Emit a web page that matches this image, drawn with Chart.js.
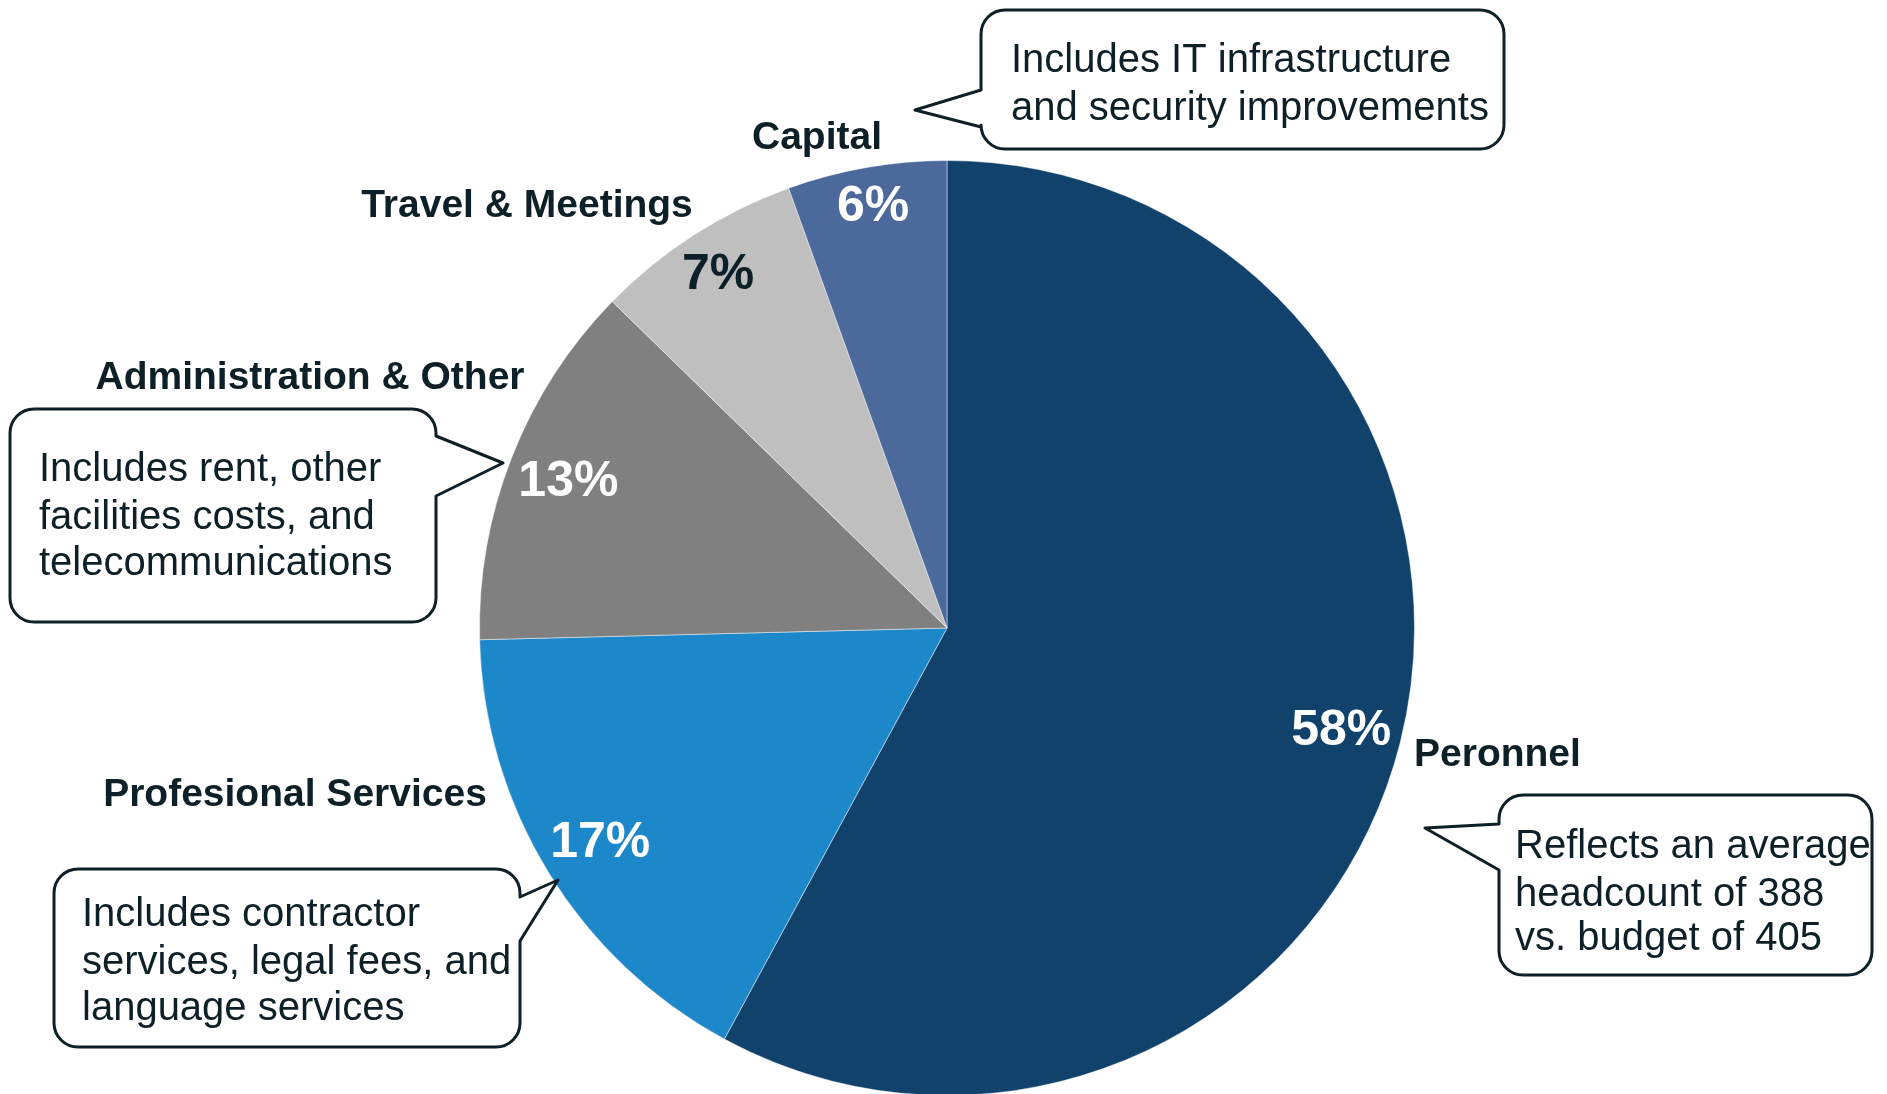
<!DOCTYPE html>
<html>
<head>
<meta charset="utf-8">
<script src="https://cdn.jsdelivr.net/npm/chart.js@4.4.1/dist/chart.umd.min.js"></script>
<style>
  html, body { margin: 0; padding: 0; background: #fff; overflow: hidden; }
  #wrap { width: 1887px; height: 1094px; overflow: hidden; }
</style>
</head>
<body>
<div id="wrap"><canvas id="pie-chart" width="1887" height="1100"></canvas></div>
<script>
var categories = ['Peronnel', 'Profesional Services', 'Administration & Other', 'Travel & Meetings', 'Capital'];
var shares = [57.9, 16.7, 12.7, 7.2, 5.5];
var pctLabels = ['58%', '17%', '13%', '7%', '6%'];
var notes = [
  ['Reflects an average', 'headcount of 388', 'vs. budget of 405'],
  ['Includes contractor', 'services, legal fees, and', 'language services'],
  ['Includes rent, other', 'facilities costs, and', 'telecommunications'],
  null,
  ['Includes IT infrastructure', 'and security improvements']
];

var colors = ['#10426C', '#1C87C9', '#808080', '#BFBFBF', '#4B6A9B'];
var pctColors = ['#fff', '#fff', '#fff', '#0d2027', '#fff'];
var pctRadius = [0.87, 0.87, 0.87, 0.905, 0.92];
var ink = '#0d2027';

// category name positions, offset from the pie centre
var namePos = [
  { dx: 467, dy: 127, align: 'left' },
  { dx: -652, dy: 167, align: 'center' },
  { dx: -637, dy: -250, align: 'center' },
  { dx: -420, dy: -422, align: 'center' },
  { dx: -130, dy: -490, align: 'center' }
];

// speech bubbles: box, tail side, tail joins and tip, text start
var bubbles = [
  { x: 1499, y: 795, w: 373, h: 180, side: 'left', j1: 824, j2: 870, tx: 1425, ty: 828, textX: 1515, lines: [847, 895, 939] },
  { x: 54, y: 869, w: 466, h: 178, side: 'right', j1: 897, j2: 941, tx: 558, ty: 880, textX: 82, lines: [915, 963, 1009] },
  { x: 10, y: 409, w: 426, h: 213, side: 'right', j1: 436, j2: 496, tx: 503, ty: 463, textX: 39, lines: [470, 518, 564] },
  null,
  { x: 981, y: 10, w: 523, h: 139, side: 'left', j1: 90, j2: 127, tx: 915, ty: 110, textX: 1011, lines: [61, 109] }
];

function bubblePath(ctx, b) {
  var r = 24, x = b.x, y = b.y, w = b.w, h = b.h;
  ctx.beginPath();
  ctx.moveTo(x + r, y);
  ctx.lineTo(x + w - r, y);
  ctx.arcTo(x + w, y, x + w, y + r, r);
  if (b.side === 'right') {
    ctx.lineTo(x + w, b.j1);
    ctx.lineTo(b.tx, b.ty);
    ctx.lineTo(x + w, b.j2);
  }
  ctx.lineTo(x + w, y + h - r);
  ctx.arcTo(x + w, y + h, x + w - r, y + h, r);
  ctx.lineTo(x + r, y + h);
  ctx.arcTo(x, y + h, x, y + h - r, r);
  if (b.side === 'left') {
    ctx.lineTo(x, b.j2);
    ctx.lineTo(b.tx, b.ty);
    ctx.lineTo(x, b.j1);
  }
  ctx.lineTo(x, y + r);
  ctx.arcTo(x, y, x + r, y, r);
  ctx.closePath();
}

var labelPlugin = {
  id: 'pieLabels',
  afterDraw: function (chart) {
    var ctx = chart.ctx;
    var arcs = chart.getDatasetMeta(0).data;
    var cx = arcs[0].x, cy = arcs[0].y;
    ctx.save();

    // percentages inside the slices
    ctx.font = 'bold 50px "Liberation Sans", Arial, sans-serif';
    ctx.textAlign = 'center';
    ctx.textBaseline = 'middle';
    arcs.forEach(function (arc, i) {
      var mid = (arc.startAngle + arc.endAngle) / 2;
      var r = arc.outerRadius * pctRadius[i];
      ctx.fillStyle = pctColors[i];
      ctx.fillText(pctLabels[i], arc.x + Math.cos(mid) * r, arc.y + Math.sin(mid) * r + 3);
    });

    // category names
    ctx.font = 'bold 39px "Liberation Sans", Arial, sans-serif';
    ctx.fillStyle = ink;
    categories.forEach(function (name, i) {
      var p = namePos[i];
      ctx.textAlign = p.align;
      ctx.fillText(name, cx + p.dx, cy + p.dy);
    });

    // callout bubbles
    ctx.lineWidth = 3;
    ctx.lineJoin = 'round';
    ctx.strokeStyle = ink;
    ctx.font = '40px "Liberation Sans", Arial, sans-serif';
    ctx.textAlign = 'left';
    bubbles.forEach(function (b, i) {
      if (!b) return;
      bubblePath(ctx, b);
      ctx.fillStyle = '#fff';
      ctx.fill();
      ctx.stroke();
      ctx.fillStyle = ink;
      notes[i].forEach(function (line, k) {
        ctx.fillText(line, b.textX, b.lines[k]);
      });
    });
    ctx.restore();
  }
};

(function () {
  var ctx = document.getElementById('pie-chart').getContext('2d');
  new Chart(ctx, {
    type: 'pie',
    data: {
      labels: categories,
      datasets: [{
        data: shares,
        backgroundColor: colors,
        borderColor: 'rgba(255,255,255,0.45)',
        borderWidth: 1
      }]
    },
    options: {
      responsive: false,
      animation: false,
      devicePixelRatio: 1,
      layout: { padding: { left: 479, right: 472, top: 160, bottom: 4 } },
      plugins: {
        legend: { display: false },
        tooltip: { enabled: false }
      }
    },
    plugins: [labelPlugin]
  });
})();
</script>
</body>
</html>
